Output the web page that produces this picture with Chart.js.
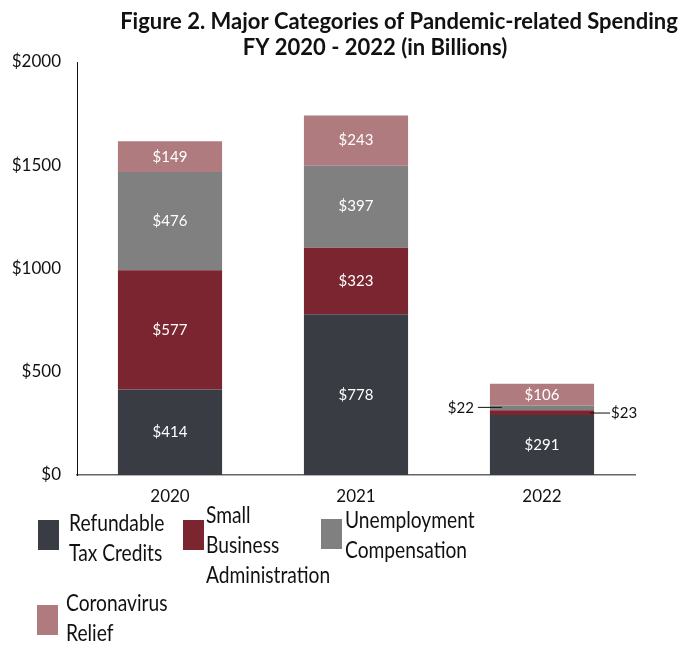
<!DOCTYPE html>
<html>
<head>
<meta charset="utf-8">
<script src="https://cdn.jsdelivr.net/npm/chart.js"></script>
<style>
  html, body { margin: 0; padding: 0; background: #fff; }
  #wrap { width: 680px; height: 645px; position: relative; }
</style>
</head>
<body>
<div id="wrap"><canvas id="spending"></canvas></div>
<script>
const years = ['2020', '2021', '2022'];
const refundableTaxCredits = [414, 778, 291];
const smallBusinessAdmin = [577, 323, 23];
const unemploymentComp = [476, 397, 22];
const coronavirusRelief = [149, 243, 106];
const yTicks = [0, 500, 1000, 1500, 2000];

const seriesNames = [
    ['Refundable', 'Tax Credits'],
    ['Small', 'Business', 'Administration'],
    ['Unemployment', 'Compensation'],
    ['Coronavirus', 'Relief']
];
const seriesColors = ['#3a3c43', '#7a2530', '#808080', '#b07b7f'];
const FONT = 'Lato, "Open Sans", sans-serif';

// title lines, drawn by hand so each line can sit where it should
const titlePlugin = {
    id: 'figTitle',
    afterDraw(chart) {
        const ctx = chart.ctx;
        ctx.save();
        ctx.fillStyle = '#111';
        ctx.font = 'bold 22px ' + FONT;
        ctx.textAlign = 'center';
        ctx.textBaseline = 'alphabetic';
        ctx.fillText('Figure 2. Major Categories of Pandemic-related Spending', 399, 29);
        ctx.fillText('FY 2020 - 2022 (in Billions)', 375, 55);
        ctx.restore();
    }
};

// dollar labels on each segment; thin slices get a label off to the side
const segmentLabels = {
    id: 'segmentLabels',
    afterDatasetsDraw(chart) {
        const ctx = chart.ctx;
        ctx.save();
        ctx.font = '15px ' + FONT;
        ctx.textBaseline = 'middle';
        chart.data.datasets.forEach((ds, di) => {
            const meta = chart.getDatasetMeta(di);
            meta.data.forEach((bar, i) => {
                const v = ds.data[i];
                const yMid = (bar.y + bar.base) / 2;
                const h = Math.abs(bar.base - bar.y);
                const half = bar.width / 2;
                if (h > 16) {
                    ctx.fillStyle = '#fff';
                    ctx.textAlign = 'center';
                    ctx.fillText('$' + v, bar.x, yMid);
                    return;
                }
                ctx.strokeStyle = '#111';
                ctx.lineWidth = 1;
                ctx.fillStyle = '#111';
                ctx.beginPath();
                if (di === 1) {
                    ctx.moveTo(bar.x + half - 4, yMid + 0.5);
                    ctx.lineTo(bar.x + half + 16, yMid + 0.5);
                    ctx.stroke();
                    ctx.textAlign = 'left';
                    ctx.fillText('$' + v, bar.x + half + 17, yMid + 1);
                } else {
                    ctx.moveTo(bar.x - half - 12, yMid - 0.5);
                    ctx.lineTo(bar.x - half + 12, yMid - 0.5);
                    ctx.stroke();
                    ctx.textAlign = 'right';
                    ctx.fillText('$' + v, bar.x - half - 16, yMid);
                }
            });
        });
        ctx.restore();
    }
};

// legend with wrapped names, laid out in the space under the axis
const legendSpots = [
    { box: [38, 520], text: [69, 523] },
    { box: [183, 520], text: [206, 515] },
    { box: [321, 519], text: [345, 520] },
    { box: [37, 605], text: [66, 603] }
];
const wrapLegend = {
    id: 'wrapLegend',
    afterDraw(chart) {
        const ctx = chart.ctx;
        ctx.save();
        ctx.font = '24px ' + FONT;
        ctx.textAlign = 'left';
        ctx.textBaseline = 'middle';
        seriesNames.forEach((lines, i) => {
            const spot = legendSpots[i];
            ctx.fillStyle = seriesColors[i];
            ctx.fillRect(spot.box[0], spot.box[1], 21, 30);
            ctx.fillStyle = '#111';
            lines.forEach((line, k) => {
                // narrowed lettering
                ctx.save();
                ctx.translate(spot.text[0], spot.text[1] + k * 30);
                ctx.scale(0.8, 1);
                ctx.fillText(line, 0, 0);
                ctx.restore();
            });
        });
        ctx.restore();
    }
};

const datasets = [refundableTaxCredits, smallBusinessAdmin, unemploymentComp, coronavirusRelief]
    .map((data, i) => ({
        label: seriesNames[i].join(' '),
        data,
        backgroundColor: seriesColors[i],
        borderWidth: 0,
        categoryPercentage: 1,
        barPercentage: 0.56
    }));

new Chart(document.getElementById('spending'), {
    type: 'bar',
    data: { labels: years, datasets },
    options: {
        responsive: true,
        maintainAspectRatio: false,
        animation: false,
        layout: { padding: { top: 62, right: 45, bottom: 140, left: 0 } },
        plugins: {
            legend: { display: false },
            title: { display: false },
            tooltip: { enabled: false }
        },
        scales: {
            x: {
                stacked: true,
                grid: { display: false },
                border: { display: true, color: '#666', width: 1.5 },
                ticks: { color: '#111', font: { family: FONT, size: 17 }, padding: 3 },
                afterFit(scale) { scale.height = 30; }
            },
            y: {
                stacked: true,
                min: 0,
                max: 2000,
                afterBuildTicks(scale) { scale.ticks = yTicks.map(v => ({ value: v })); },
                grid: { display: false },
                border: { display: true, color: '#111', width: 1 },
                ticks: {
                    color: '#111',
                    font: { family: FONT, size: 17 },
                    padding: 8,
                    callback: v => '$' + v
                },
                afterFit(scale) { scale.width = 77; }
            }
        }
    },
    plugins: [titlePlugin, segmentLabels, wrapLegend]
});
</script>
</body>
</html>
